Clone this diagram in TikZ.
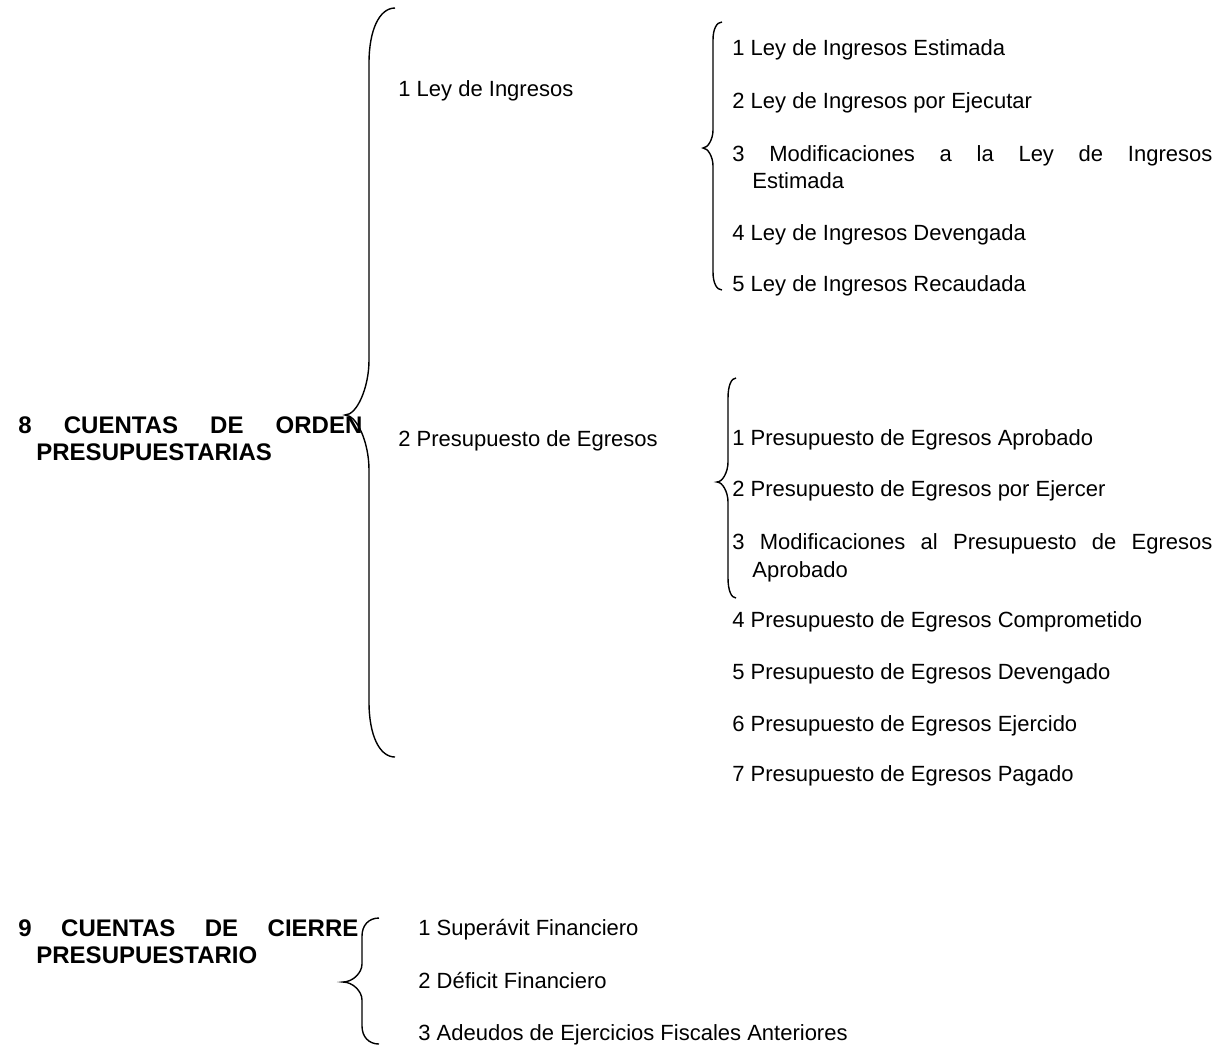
\documentclass[tikz,border=0pt]{standalone}
\usepackage{fontspec}
\setmainfont{Liberation Sans}

% llave izquierda: x extremo, x recta, x punta, y arriba, y punta, y abajo, radio
\newcommand{\llave}[7]{%
  \draw[llave] (#1,#4) .. controls (#2+0.4*#1-0.4*#2,#4) and (#2,#4+0.4*#7) .. (#2,#4+#7)
    -- (#2,#5-#7) .. controls (#2,#5-0.5*#7) and (#3+0.5*#2-0.5*#3,#5) .. (#3,#5)
    .. controls (#3+0.5*#2-0.5*#3,#5) and (#2,#5+0.5*#7) .. (#2,#5+#7)
    -- (#2,#6-#7) .. controls (#2,#6-0.4*#7) and (#2+0.4*#1-0.4*#2,#6) .. (#1,#6);
}

\begin{document}
\begin{tikzpicture}[x=0.5pt, y=-0.5pt,
  llave/.style={line width=0.7pt},
  item/.style={anchor=base west, inner sep=0pt, font=\fontsize{11}{13}\selectfont},
  titulo/.style={anchor=base west, inner sep=0pt, font=\bfseries\fontsize{12}{14}\selectfont}]
\useasboundingbox (0,0) rectangle (1218,1046);

% cuentas de orden
\node[titulo] (orden) at (18,433) {\makebox[172pt][s]{8 CUENTAS DE ORDEN}};
\node[titulo] (orden2) at (36,460) {PRESUPUESTARIAS};
\llave{395}{369}{345}{8}{415}{757}{55}

\node[item] (ley) at (398,96) {1 Ley de Ingresos};
\node[item] (egr) at (398,446) {2 Presupuesto de Egresos};

% ley de ingresos
\llave{722}{713}{703}{22}{148}{290}{18}
\node[item] (ley1) at (732,55) {1 Ley de Ingresos Estimada};
\node[item] (ley2) at (732,108) {2 Ley de Ingresos por Ejecutar};
\node[item] (ley3) at (732,161) {\makebox[240pt][s]{3 Modificaciones a la Ley de Ingresos}};
\node[item] (ley3b) at (752,188) {Estimada};
\node[item] (ley4) at (732,240) {4 Ley de Ingresos Devengada};
\node[item] (ley5) at (732,291) {5 Ley de Ingresos Recaudada};

% presupuesto de egresos
\llave{736}{728}{717}{378}{482}{598}{20}
\node[item] (egr1) at (732,445) {1 Presupuesto de Egresos Aprobado};
\node[item] (egr2) at (732,496) {2 Presupuesto de Egresos por Ejercer};
\node[item] (egr3) at (732,549) {\makebox[240pt][s]{3 Modificaciones al Presupuesto de Egresos}};
\node[item] (egr3b) at (752,577) {Aprobado};
\node[item] (egr4) at (732,627) {4 Presupuesto de Egresos Comprometido};
\node[item] (egr5) at (732,679) {5 Presupuesto de Egresos Devengado};
\node[item] (egr6) at (732,731) {6 Presupuesto de Egresos Ejercido};
\node[item] (egr7) at (732,781) {7 Presupuesto de Egresos Pagado};

% cuentas de cierre
\node[titulo] (cierre) at (18,936) {\makebox[170pt][s]{9 CUENTAS DE CIERRE}};
\node[titulo] (cierre2) at (36,963) {PRESUPUESTARIO};
\llave{379}{362}{343}{918}{982}{1044}{18}
\node[item] (cie1) at (418,935) {1 Superávit Financiero};
\node[item] (cie2) at (418,988) {2 Déficit Financiero};
\node[item] (cie3) at (418,1040) {3 Adeudos de Ejercicios Fiscales Anteriores};
\end{tikzpicture}
\end{document}
